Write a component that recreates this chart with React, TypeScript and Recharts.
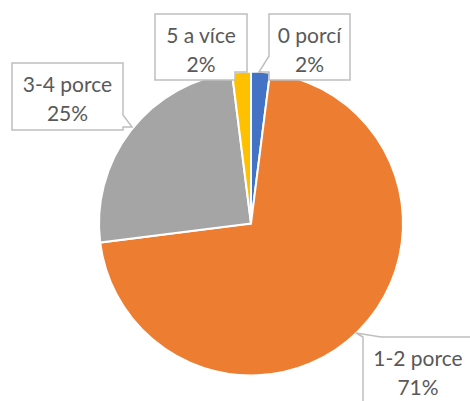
import { PieChart, Pie, Cell } from 'recharts'

const categories = ['0 porcí', '1-2 porce', '3-4 porce', '5 a více']
const shares = [2, 71, 25, 2]
const colors = ['#4472C4', '#ED7D31', '#A5A5A5', '#FFC000']

const data = categories.map((name, i) => ({ name, value: shares[i] }))

// callout boxes, placed relative to the pie centre
const boxes = [
  { dx: 18, dy: -209.5, w: 81, h: 66, side: 'left', t1: 42, t2: 58, tx: 8, ty: -151.5 },
  { dx: 112, dy: 113.5, w: 110, h: 70, side: 'top', t1: 0, t2: 18, tx: 105, ty: 109.5 },
  { dx: -239, dy: -160.5, w: 111, h: 67, side: 'right', t1: 52, t2: 64, tx: -119, ty: -96.5 },
  { dx: -96, dy: -209.5, w: 92, h: 66, side: 'notch', t1: 58, t2: 80, tx: 0, ty: 0 },
]

function calloutPath(x: number, y: number, w: number, h: number, b: any, px: number, py: number) {
  const r = x + w
  const btm = y + h
  switch (b.side) {
    case 'left':
      return `M${x},${y} L${r},${y} L${r},${btm} L${x},${btm} L${x},${y + b.t2} L${px},${py} L${x},${y + b.t1} Z`
    case 'right':
      return `M${x},${y} L${r},${y} L${r},${y + b.t1} L${px},${py} L${r},${y + b.t2} L${r},${btm} L${x},${btm} Z`
    case 'top':
      return `M${x},${y} L${px},${py} L${x + b.t2},${y} L${r},${y} L${r},${btm} L${x},${btm} Z`
    default:
      // corner cut where the slice shows through
      return `M${x},${y} L${r},${y} L${r},${y + b.t1} L${x + b.t2},${y + b.t1} L${x + b.t2},${btm} L${x},${btm} Z`
  }
}

const renderLabel = (props: any) => {
  const { cx, cy, index, percent, name } = props
  const b = boxes[index]
  const x = cx + b.dx
  const y = cy + b.dy
  const mid = x + b.w / 2
  return (
    <g key={`lbl-${index}`}>
      <path
        d={calloutPath(x, y, b.w, b.h, b, cx + b.tx, cy + b.ty)}
        fill="#fff"
        stroke="#BFBFBF"
        strokeWidth={1.5}
      />
      <text x={mid} y={y + 29} textAnchor="middle" fill="#595959" fontSize={21} fontFamily="Lato, sans-serif">
        {name}
      </text>
      <text x={mid} y={y + 58} textAnchor="middle" fill="#595959" fontSize={21} fontFamily="Lato, sans-serif">
        {`${Math.round(percent * 100)}%`}
      </text>
    </g>
  )
}

export default function App() {
  return (
    <div style={{ position: 'absolute', left: 0, top: 0, background: '#fff' }}>
      <PieChart width={470} height={401}>
        <Pie
          data={data}
          dataKey="value"
          nameKey="name"
          cx={246}
          cy={218.5}
          outerRadius={152}
          startAngle={90}
          endAngle={-270}
          stroke="#fff"
          strokeWidth={2}
          label={renderLabel}
          labelLine={false}
          isAnimationActive={false}
        >
          {data.map((d, i) => (
            <Cell key={d.name} fill={colors[i]} />
          ))}
        </Pie>
      </PieChart>
    </div>
  )
}
